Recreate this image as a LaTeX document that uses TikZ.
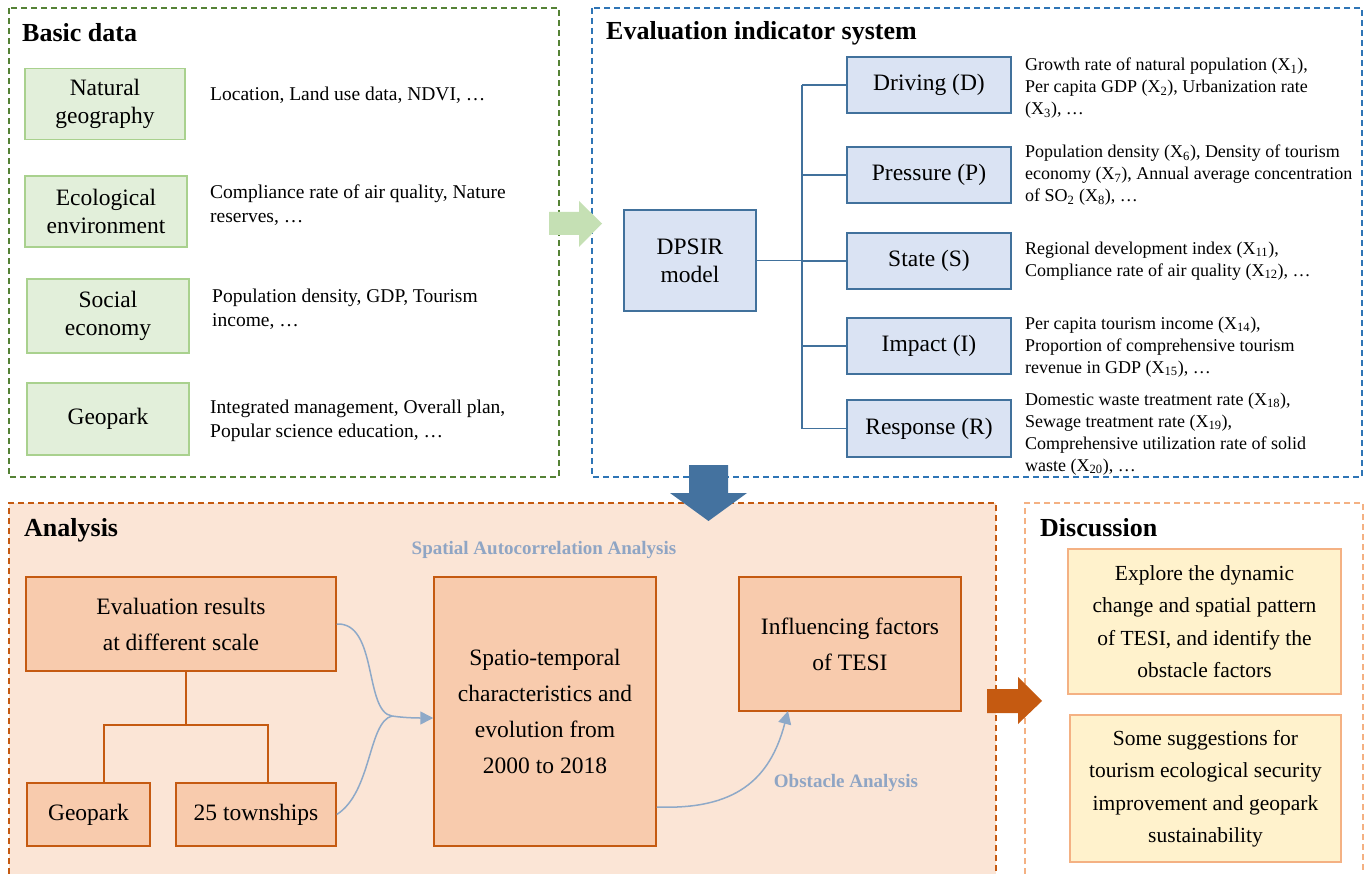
\documentclass[tikz,border=0pt]{standalone}
\usepackage{fontspec}
\setmainfont{Liberation Serif}
\usetikzlibrary{arrows.meta}
\definecolor{gborder}{HTML}{A9D18E}
\definecolor{gfill}{HTML}{E2EFDA}
\definecolor{gdash}{HTML}{548235}
\definecolor{garrow}{HTML}{C5E0B4}
\definecolor{bborder}{HTML}{41719C}
\definecolor{bfill}{HTML}{DAE3F3}
\definecolor{bdash}{HTML}{2E75B6}
\definecolor{barrow}{HTML}{44729F}
\definecolor{odash}{HTML}{C55A11}
\definecolor{ofill}{HTML}{FBE5D6}
\definecolor{obox}{HTML}{F8CBAD}
\definecolor{oarrow}{HTML}{C55A11}
\definecolor{ddash}{HTML}{F4B183}
\definecolor{yfill}{HTML}{FFF2CC}
\definecolor{curvec}{HTML}{8EA9C8}
\definecolor{labc}{HTML}{8FA5C4}
\tikzset{
  x=1pt, y=-1pt,
  panel/.style={dashed, dash pattern=on 6pt off 4pt, line width=1.3pt},
  boxtxt/.style={font=\fontsize{23.5}{28}\selectfont, align=center, inner sep=0pt},
  gbox/.style={boxtxt, draw=gborder, fill=gfill, line width=1.5pt},
  bbox/.style={boxtxt, draw=bborder, fill=bfill, line width=1.5pt},
  abox/.style={boxtxt, font=\fontsize{23.5}{36}\selectfont, draw=odash, fill=obox, line width=1.5pt},
  ybox/.style={boxtxt, font=\fontsize{21.5}{32.5}\selectfont, draw=ddash, fill=yfill, line width=1.5pt},
  desc/.style={anchor=west, align=left, inner sep=0pt, font=\fontsize{19.5}{24}\selectfont},
  edesc/.style={anchor=west, align=left, inner sep=0pt, font=\fontsize{18}{22}\selectfont},
  ttl/.style={anchor=west, inner sep=0pt, font=\fontsize{26}{30}\selectfont\bfseries},
  tree/.style={draw=bborder, line width=1.5pt},
  otree/.style={draw=odash, line width=1.5pt},
  curve/.style={draw=curvec, line width=1.5pt},
  curvearrow/.style={curve, -{Triangle[width=13pt,length=13pt]}},
  alab/.style={inner sep=0pt, text=labc, font=\fontsize{19}{22}\selectfont\bfseries},
}
\newcommand{\Xs}[1]{(X\textsubscript{#1})}
\begin{document}
\begin{tikzpicture}
\useasboundingbox[fill=white] (0,0) rectangle (1370,874);
% panels
\draw[panel, draw=gdash] (9,8) rectangle (559,477);
\draw[panel, draw=bdash] (592,8) rectangle (1362,477);
\fill[ofill] (9,503) rectangle (996,874);
\draw[panel, draw=odash] (9,874) -- (9,503) -- (996,503) -- (996,874);
\draw[panel, draw=ddash, line width=1.2pt] (1025,874) -- (1025,503) -- (1363,503) -- (1363,874);

% titles
\node[ttl] (t1) at (22,33) {Basic data};
\node[ttl] (t2) at (606,33) {Evaluation indicator system};
\node[ttl] (t3) at (24,530) {Analysis};
\node[ttl] (t4) at (1040,528) {Discussion};

% basic data
\node[gbox, minimum width=160pt, minimum height=71pt] (ng) at (105,104) {Natural\\geography};
\node[gbox, minimum width=162pt, minimum height=71pt] (ee) at (106,211.5) {Ecological\\environment};
\node[gbox, minimum width=162pt, minimum height=74pt] (se) at (108,316) {Social\\economy};
\node[gbox, minimum width=162pt, minimum height=72pt] (gp) at (108,419) {Geopark};
\node[desc] (d1) at (210,95) {Location, Land use data, NDVI, \dots};
\node[desc] (d2) at (210,205) {Compliance rate of air quality, Nature\\reserves, \dots};
\node[desc] (d3) at (212,309) {Population density, GDP, Tourism\\income, \dots};
\node[desc] (d4) at (210,421) {Integrated management, Overall plan,\\Popular science education, \dots};

% evaluation indicator system
\node[bbox, minimum width=132pt, minimum height=101pt] (dp) at (690,260.5) {DPSIR\\model};
\node[bbox, minimum width=164pt, minimum height=56pt] (dr) at (929,85) {Driving (D)};
\node[bbox, minimum width=164pt, minimum height=56pt] (pr) at (929,175) {Pressure (P)};
\node[bbox, minimum width=164pt, minimum height=56pt] (st) at (929,261) {State (S)};
\node[bbox, minimum width=164pt, minimum height=56pt] (im) at (929,346) {Impact (I)};
\node[bbox, minimum width=164pt, minimum height=57pt] (re) at (929,428.5) {Response (R)};
\coordinate (trt) at (802,85);
\coordinate (trb) at (802,428.5);
\coordinate (trm) at (802,260.5);
\draw[tree] (dp.east) -- (trm);
\draw[tree] (trt) -- (trb);
\foreach \n in {dr,pr,st,im,re} \draw[tree] (\n.west) -- (\n.west -| trt);

\node[edesc] (e1) at (1025,88) {Growth rate of natural population \Xs{1},\\Per capita GDP \Xs{2}, Urbanization rate\\\Xs{3}, \dots};
\node[edesc] (e2) at (1025,175) {Population density \Xs{6}, Density of tourism\\economy \Xs{7}, Annual average concentration\\of SO\textsubscript{2} \Xs{8}, \dots};
\node[edesc] (e3) at (1025,261) {Regional development index \Xs{11},\\Compliance rate of air quality \Xs{12}, \dots};
\node[edesc] (e4) at (1025,347) {Per capita tourism income \Xs{14},\\Proportion of comprehensive tourism\\revenue in GDP \Xs{15}, \dots};
\node[edesc] (e5) at (1025,434) {Domestic waste treatment rate \Xs{18},\\Sewage treatment rate \Xs{19},\\Comprehensive utilization rate of solid\\waste \Xs{20}, \dots};

% block arrows
\fill[garrow] (549,212) -- (579,212) -- (579,201) -- (602,223.5) -- (579,247) -- (579,235) -- (549,235) -- cycle;
\fill[barrow] (689,465) -- (728,465) -- (728,493) -- (747,493) -- (708.5,521) -- (670,493) -- (689,493) -- cycle;
\fill[oarrow] (987,689) -- (1018,689) -- (1018,677) -- (1042,701) -- (1018,724) -- (1018,713) -- (987,713) -- cycle;

% analysis
\node[abox, minimum width=310pt, minimum height=94pt] (ev) at (181,624) {Evaluation results\\at different scale};
\node[abox, minimum width=123pt, minimum height=63pt] (geo) at (88.5,814.5) {Geopark};
\node[abox, minimum width=160pt, minimum height=63pt] (tw) at (256,814.5) {25 townships};
\node[abox, minimum width=222pt, minimum height=269pt] (sp) at (545,711.5) {Spatio-temporal\\characteristics and\\evolution from\\2000 to 2018};
\node[abox, minimum width=222pt, minimum height=134pt] (inf) at (850,644) {Influencing factors\\of TESI};
\coordinate (br) at (186,725);
\coordinate (bl) at (104,725);
\coordinate (bb) at (268,725);
\draw[otree] (ev.south -| br) -- (br);
\draw[otree] (geo.north -| bl) -- (bl) -- (bb) -- (tw.north -| bb);

\coordinate (jn) at (392,716);
\draw[curvearrow] (ev.east) .. controls (378,622) and (364,712) .. (jn) .. controls (405,718) and (420,718) .. (sp.west |- 0,718);
\draw[curve] (tw.east) .. controls (372,792) and (368,722) .. (jn);
\coordinate (oe) at (788,711);
\draw[curvearrow] (sp.east |- 0,807) .. controls (735,810) and (770,780) .. (oe);
\node[alab] (l1) at (544,550) {Spatial Autocorrelation Analysis};
\node[alab] (l2) at (846,783) {Obstacle Analysis};

% discussion
\node[ybox, minimum width=273pt, minimum height=145pt] (y1) at (1204.5,621.5) {Explore the dynamic\\change and spatial pattern\\of TESI, and identify the\\obstacle factors};
\node[ybox, minimum width=271pt, minimum height=147pt] (y2) at (1205.5,788.5) {Some suggestions for\\tourism ecological security\\improvement and geopark\\sustainability};
\end{tikzpicture}
\end{document}
